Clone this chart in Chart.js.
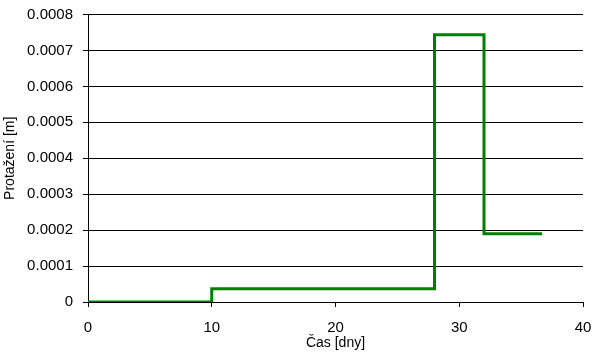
<!DOCTYPE html>
<html>
<head>
<meta charset="utf-8">
<script src="https://cdn.jsdelivr.net/npm/chart.js@4"></script>
<style>
  html, body { margin: 0; padding: 0; background: #fff; }
  #wrap { width: 598px; height: 364px; }
</style>
</head>
<body>
<div id="wrap"><canvas id="chart"></canvas></div>
<script>
// Step change points (time in days, elongation in m)
const times = [0, 10, 28, 32, 36.7];
const elongation = [0, 0.000037, 0.000744, 0.00019, 0.00019];

const xTitle = 'Čas [dny]';
const yTitle = 'Protažení [m]';

const points = times.map((t, i) => ({ x: t, y: elongation[i] }));

Chart.defaults.font.family = '"Liberation Sans", Arial, sans-serif';
Chart.defaults.color = '#000';

new Chart(document.getElementById('chart'), {
    type: 'line',
    data: {
        datasets: [{
            data: points,
            borderColor: '#008000',
            borderWidth: 3,
            pointRadius: 0,
            stepped: true,
            fill: false
        }]
    },
    options: {
        responsive: true,
        maintainAspectRatio: false,
        animation: false,
        layout: { padding: { top: 14.5, right: 15, bottom: 0, left: 0 } },
        plugins: {
            legend: { display: false },
            tooltip: { enabled: false }
        },
        scales: {
            x: {
                type: 'linear',
                min: 0,
                max: 40,
                ticks: { stepSize: 10, padding: 12, font: { size: 15 }, color: '#000' },
                grid: { drawOnChartArea: false, drawTicks: true, tickLength: 5, color: '#000' },
                border: { color: '#000', width: 1 },
                title: { display: true, text: xTitle, font: { size: 14 }, color: '#000', padding: { top: 4, bottom: 12 } },
                afterFit: (scale) => {
                    scale.height = 62;
                    scale.paddingLeft = 0;
                    scale.paddingRight = 0;
                }
            },
            y: {
                min: 0,
                max: 0.0008,
                ticks: {
                    stepSize: 0.0001,
                    padding: 10,
                    font: { size: 15 },
                    color: '#000',
                    callback: (v) => v === 0 ? '0' : v.toFixed(4)
                },
                grid: { color: '#000', lineWidth: 1, tickLength: 5 },
                border: { color: '#000', width: 1 },
                title: { display: true, text: yTitle, font: { size: 14 }, color: '#000', padding: { top: 2, bottom: 4 } },
                afterFit: (scale) => {
                    scale.width = 88;
                    scale.paddingTop = 0;
                    scale.paddingBottom = 0;
                }
            }
        }
    }
});
</script>
</body>
</html>
